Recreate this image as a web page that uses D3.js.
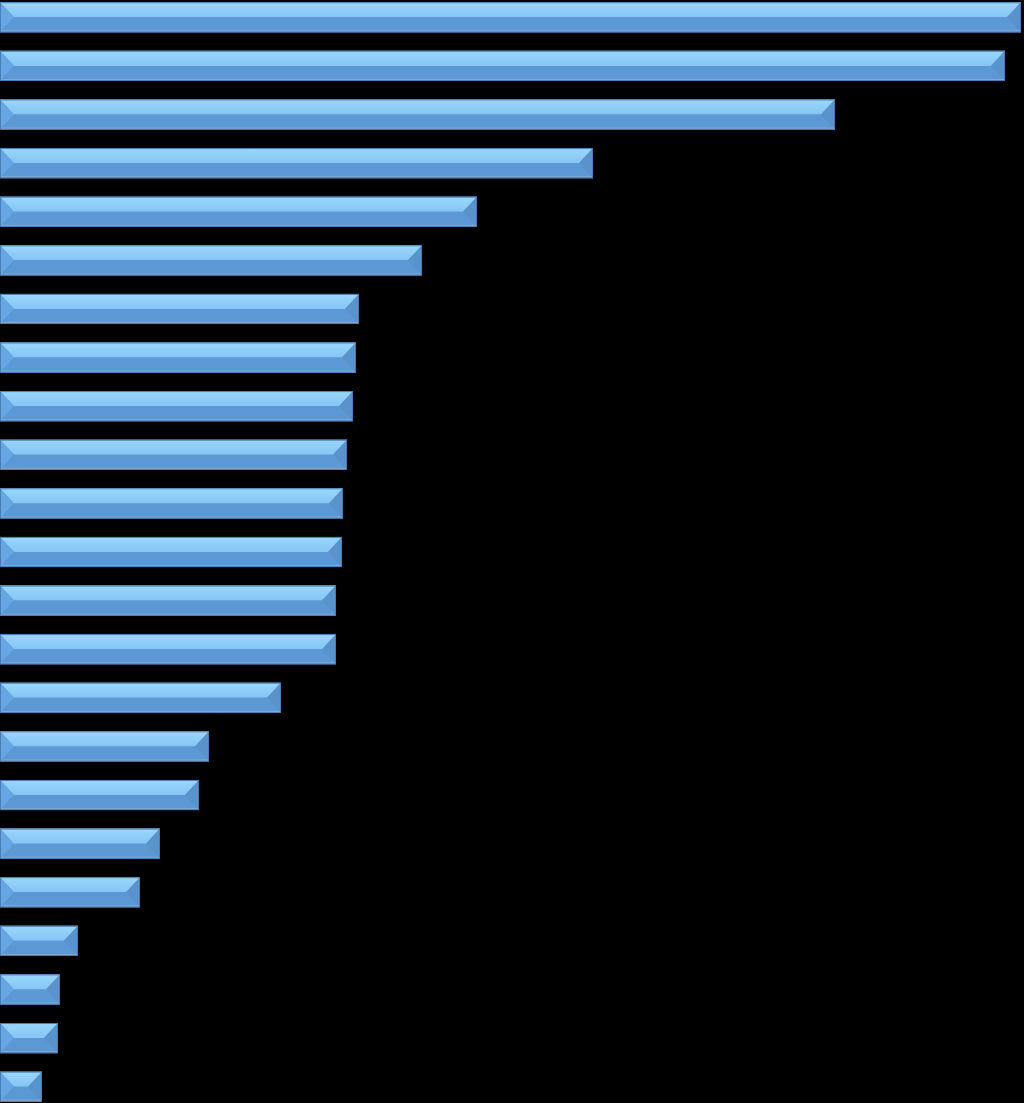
<!DOCTYPE html>
<html><head><meta charset="utf-8">
<script src="https://cdn.jsdelivr.net/npm/d3@7"></script>
<style>html,body{margin:0;padding:0;background:#000;}svg{display:block;}</style>
</head><body>
<script>
const categories = d3.range(1, 24).map(i => "C" + i);
const values = [1021, 1005, 835, 593, 477, 422, 359, 356, 353, 347, 343, 342, 336, 336, 281, 209, 199, 160, 140, 78, 60, 58, 42];

const W = 1024, H = 1103;
const svg = d3.select("body").append("svg").attr("width", W).attr("height", H);
svg.append("rect").attr("width", W).attr("height", H).attr("fill", "#000");

const defs = svg.append("defs");
const tg = defs.append("linearGradient").attr("id", "topg").attr("x1", 0).attr("x2", 0).attr("y1", 0).attr("y2", 1);
tg.append("stop").attr("offset", "0%").attr("stop-color", "#9ad7fc");
tg.append("stop").attr("offset", "100%").attr("stop-color", "#85c5f3");

const x = d3.scaleLinear().domain([0, 1024]).range([0, 1024]);
const y = d3.scaleBand().domain(categories).range([-7, 1111]).paddingInner(0.38).paddingOuter(0.19);

const g = svg.append("g").selectAll("g").data(values).join("g")
  .attr("transform", (d, i) => `translate(${x(0)},${y(categories[i])})`);

const h = y.bandwidth();
const m = h / 2;
const bev = d => Math.min(14, (x(d) - x(0)) / 2);

// base
g.append("rect").attr("width", d => x(d) - x(0)).attr("height", h).attr("fill", "#5b97d3");
// top facet
g.append("polygon").attr("points", d => {
  const w = x(d) - x(0), b = bev(d);
  return `0,0 ${w},0 ${w - b},${m} ${b},${m}`;
}).attr("fill", "url(#topg)");
// left facet
g.append("polygon").attr("points", d => `0,0 ${bev(d)},${m} 0,${h}`).attr("fill", "#66a6e2");
// right facet
g.append("polygon").attr("points", d => {
  const w = x(d) - x(0), b = bev(d);
  return `${w},0 ${w - b},${m} ${w},${h}`;
}).attr("fill", "#5a92cb");
// bottom facet
g.append("polygon").attr("points", d => {
  const w = x(d) - x(0), b = bev(d);
  return `${b},${m} ${w - b},${m} ${w},${h} 0,${h}`;
}).attr("fill", "#5c98d4");
// outline
g.append("rect").attr("x", 0.5).attr("y", 0.5).attr("width", d => x(d) - x(0) - 1).attr("height", h - 1)
  .attr("fill", "none").attr("stroke", "#4a7db2").attr("stroke-width", 1);
g.append("line").attr("x1", 1).attr("x2", d => x(d) - x(0) - 1).attr("y1", h - 1.5).attr("y2", h - 1.5)
  .attr("stroke", "#86a9cf").attr("stroke-width", 1);
</script>
</body></html>
